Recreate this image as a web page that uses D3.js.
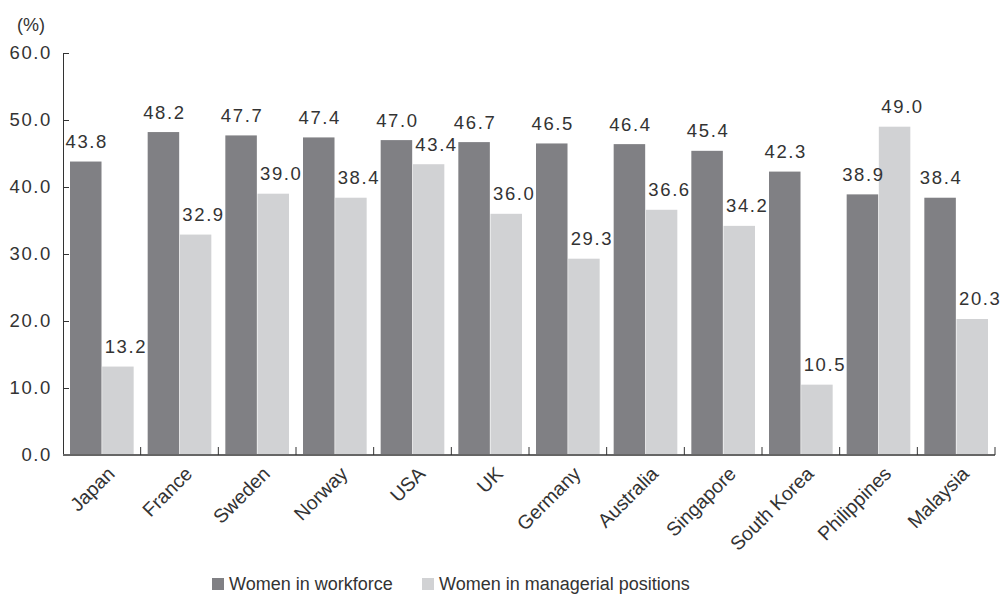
<!DOCTYPE html>
<html>
<head>
<meta charset="utf-8">
<script src="https://cdn.jsdelivr.net/npm/d3@7"></script>
<style>
  body { margin: 0; background: #fff; }
  text { font-family: "Liberation Sans", Arial, sans-serif; fill: #333; }
</style>
</head>
<body>
<div id="chart"></div>
<script>
// Data
const countries = ["Japan", "France", "Sweden", "Norway", "USA", "UK", "Germany",
                   "Australia", "Singapore", "South Korea", "Philippines", "Malaysia"];
const workforce = [43.8, 48.2, 47.7, 47.4, 47.0, 46.7, 46.5, 46.4, 45.4, 42.3, 38.9, 38.4];
const managerial = [13.2, 32.9, 39.0, 38.4, 43.4, 36.0, 29.3, 36.6, 34.2, 10.5, 49.0, 20.3];
const seriesNames = ["Women in workforce", "Women in managerial positions"];
const colors = ["#808084", "#d1d2d4"];
const yTicks = [0, 10, 20, 30, 40, 50, 60];

const width = 1003, height = 595;
const plotLeft = 63, plotRight = 995, plotTop = 53, plotBottom = 455;

const svg = d3.select("#chart").append("svg")
  .attr("width", width)
  .attr("height", height);

const x0 = d3.scaleBand().domain(countries).range([plotLeft, plotRight]).padding(0);
const x1 = d3.scaleBand().domain([0, 1]).range([7, x0.bandwidth() - 7]).paddingInner(0.02);
const y = d3.scaleLinear().domain([0, 60]).range([plotBottom, plotTop]);

// Bars
const groups = svg.selectAll("g.country")
  .data(countries)
  .join("g")
  .attr("class", "country")
  .attr("transform", d => `translate(${x0(d)},0)`);

groups.selectAll("rect")
  .data((d, i) => [workforce[i], managerial[i]])
  .join("rect")
  .attr("x", (d, j) => x1(j))
  .attr("y", d => y(d))
  .attr("width", x1.bandwidth())
  .attr("height", d => y(0) - y(d))
  .attr("fill", (d, j) => colors[j]);

// Value labels (light-bar labels sit a bit to the right)
groups.selectAll("text.val")
  .data((d, i) => [workforce[i], managerial[i]])
  .join("text")
  .attr("class", "val")
  .attr("x", (d, j) => x1(j) + x1.bandwidth() / 2 + 1 + (j === 1 ? 7 : 0))
  .attr("y", d => y(d) - 13.5)
  .attr("text-anchor", "middle")
  .style("font-size", "18.5px")
  .style("letter-spacing", "1.6px")
  .text(d => d.toFixed(1));

// Y axis
const yAxis = d3.axisLeft(y).tickValues(yTicks).tickFormat(d3.format(".1f"))
  .tickSizeInner(-6).tickSizeOuter(0).tickPadding(11);
const gy = svg.append("g").attr("transform", `translate(${plotLeft},0)`).call(yAxis);
gy.select(".domain").attr("stroke", "#333");
gy.selectAll(".tick line").attr("stroke", "#333");
gy.selectAll(".tick text")
  .style("font-size", "18.5px")
  .style("letter-spacing", "1.6px")
  .attr("font-family", null)
  .attr("fill", "#333");

// X axis: line plus ticks at band boundaries
svg.append("line")
  .attr("x1", plotLeft).attr("x2", plotRight)
  .attr("y1", plotBottom).attr("y2", plotBottom)
  .attr("stroke", "#666").attr("stroke-width", 2);

const boundaries = countries.map(c => x0(c) + x0.bandwidth());
svg.selectAll("line.xtick")
  .data(boundaries)
  .join("line")
  .attr("class", "xtick")
  .attr("x1", d => d).attr("x2", d => d)
  .attr("y1", plotBottom).attr("y2", plotBottom - 8)
  .attr("stroke", "#333");

// Category labels
svg.selectAll("text.cat")
  .data(countries)
  .join("text")
  .attr("class", "cat")
  .attr("transform", d => `translate(${x0(d) + x0.bandwidth() / 2 + 14},${plotBottom + 20}) rotate(-45)`)
  .attr("text-anchor", "end")
  .style("font-size", "19.5px")
  .text(d => d);

// Unit label
svg.append("text")
  .attr("x", 17).attr("y", 31)
  .style("font-size", "18px")
  .text("(%)");

// Legend
const legendX = [212, 422];
const legend = svg.selectAll("g.legend")
  .data(seriesNames)
  .join("g")
  .attr("class", "legend")
  .attr("transform", (d, i) => `translate(${legendX[i]},578)`);

legend.append("rect")
  .attr("width", 12).attr("height", 12)
  .attr("fill", (d, i) => colors[i]);

legend.append("text")
  .attr("x", 17).attr("y", 12)
  .style("font-size", "18px")
  .text(d => d);
</script>
</body>
</html>
